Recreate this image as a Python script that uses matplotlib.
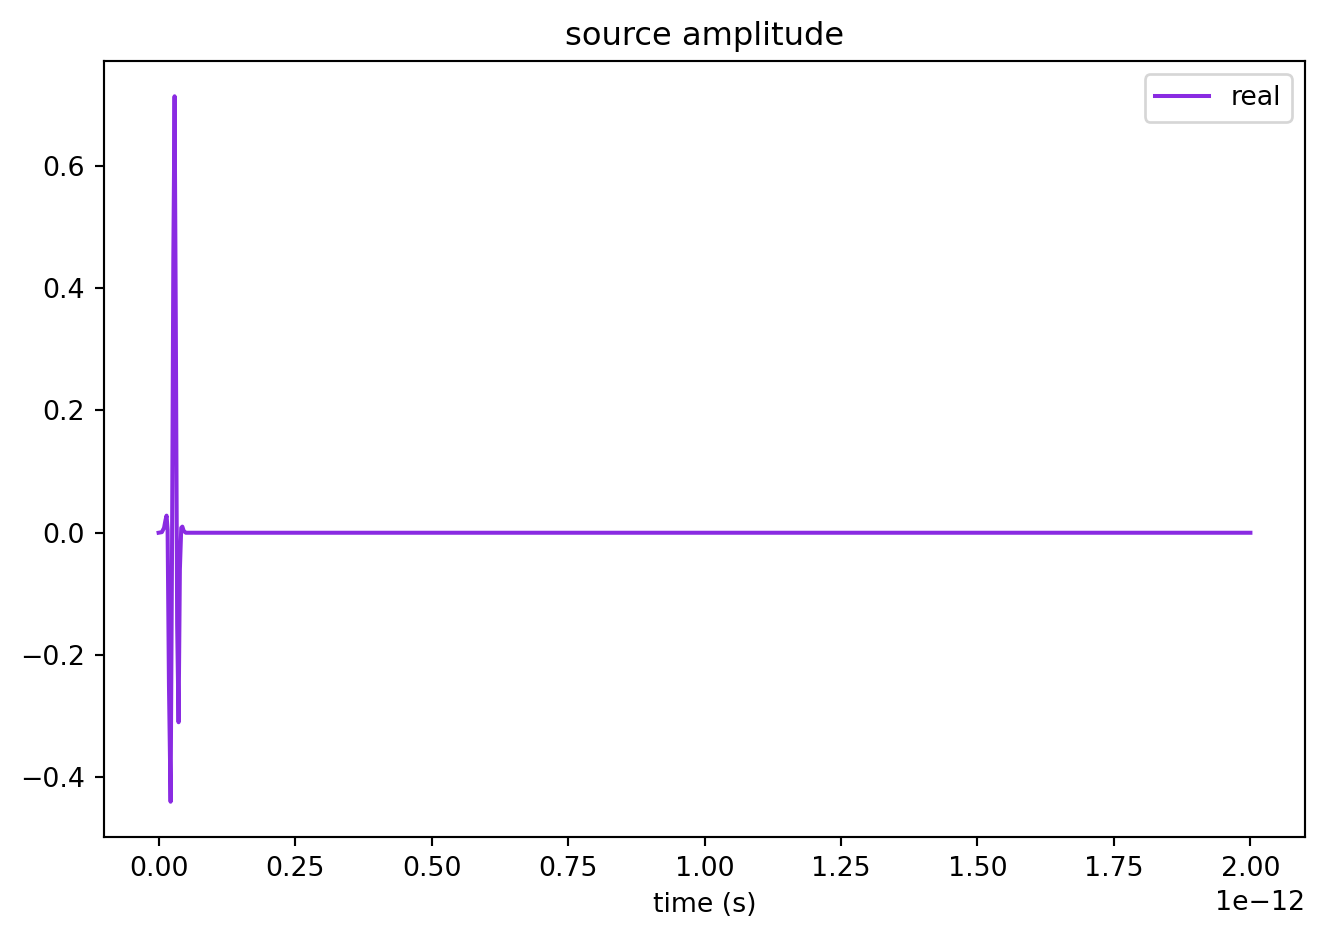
import matplotlib
matplotlib.use("Agg")
import matplotlib.pyplot as plt
import numpy as np

# time in units of 1e-12 s
time_ps = [0.0, 0.006, 0.010, 0.0125, 0.0146, 0.0165, 0.019, 0.022, 0.0245, 0.027, 0.0293,
           0.0315, 0.034, 0.0366, 0.039, 0.0415, 0.0435, 0.046, 0.050, 2.0]
real = [0.0, 0.001, 0.008, 0.02, 0.028, 0.005, -0.25, -0.44, -0.05, 0.45, 0.714,
        0.35, -0.15, -0.31, -0.06, 0.008, 0.01, 0.003, 0.0, 0.0]

t = np.array(time_ps) * 1e-12

DPI = 193
fig = plt.figure(figsize=(1324 / DPI, 940 / DPI), dpi=DPI)
ax = fig.add_axes([104 / 1324, 1 - 837 / 940, (1305 - 104) / 1324, (837 - 61) / 940])
ax.plot(t, real, color="blueviolet", label="real")
ax.set_title("source amplitude")
ax.set_xlabel("time (s)")
ax.legend(loc="upper right")
fig.savefig("out.png", dpi=DPI)
